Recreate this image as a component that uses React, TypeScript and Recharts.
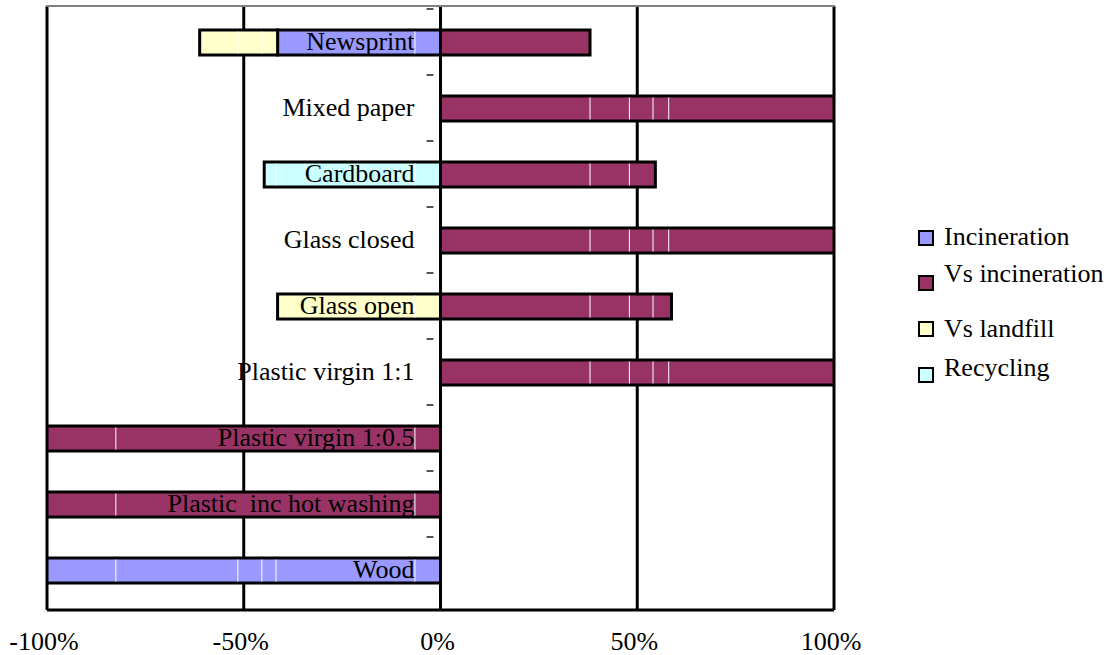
import React from "react";
import { BarChart, Bar, XAxis, YAxis, CartesianGrid, Legend } from "recharts";

// ---- data (percent) ----
const categories = [
  "Newsprint",
  "Mixed paper",
  "Cardboard",
  "Glass closed",
  "Glass open",
  "Plastic virgin 1:1",
  "Plastic virgin 1:0.5",
  "Plastic  inc hot washing",
  "Wood",
];
const incineration = [-41.4, null, null, null, null, null, null, null, -100];
const vsIncineration = [38, 100, 54.6, 100, 58.7, 100, -100, -100, null];
const vsLandfill = [-19.8, null, null, null, -41.4, null, null, null, null];
const recycling = [null, null, -44.8, null, null, null, null, null, null];

// boundaries between the inner sub-segments of each bar (percent)
const segmentBreaks = [
  [-51.5, -45.4, -6.5],
  [38, 48, 54, 58],
  [-41.8, -6.5, 38, 48, 54],
  [38, 48, 54, 58],
  [-6.5, 38, 48, 54],
  [38, 48, 54, 58],
  [-82.5, -6.5],
  [-82.5, -6.5],
  [-82.5, -51.5, -45.4, -41.8, -6.5],
];

const xTicks = [-100, -50, 0, 50, 100];

const seriesNames = ["Incineration", "Vs incineration", "Vs landfill", "Recycling"];
const seriesColors = ["#9999FF", "#993366", "#FFFFCC", "#CCFFFF"];

const data = categories.map((name, i) => ({
  name,
  idx: i,
  Incineration: incineration[i],
  "Vs incineration": vsIncineration[i],
  "Vs landfill": vsLandfill[i],
  Recycling: recycling[i],
}));

// ---- layout ----
const FONT = "'Liberation Serif', 'Times New Roman', Times, serif";
const W = 1112;
const H = 655;
const M = { top: 6, right: 278, bottom: 0, left: 46 };
const X_AXIS_H = 45;
const PLOT_LEFT = M.left + 1;
const PLOT_W = W - PLOT_LEFT - M.right;
const ZERO_X = PLOT_LEFT + PLOT_W / 2;
const PAD_TOP = 3;
const PAD_BOTTOM = 7;
const BAND = (H - M.top - X_AXIS_H - PAD_TOP - PAD_BOTTOM) / categories.length;

const SegmentShape = (props: any) => {
  const { x, y, width, height, fill, value, payload } = props;
  if (x == null || !width || Math.abs(width) < 0.5) return null;
  const left = Math.min(x, x + width);
  const w = Math.abs(width);
  let lo = 0;
  let hi = 0;
  if (Array.isArray(value)) {
    lo = Math.min(value[0], value[1]);
    hi = Math.max(value[0], value[1]);
  } else {
    lo = Math.min(0, value);
    hi = Math.max(0, value);
  }
  const px = (v: number) => left + ((v - lo) / (hi - lo)) * w;
  const breaks = (segmentBreaks[payload.idx] || []).filter(
    (b) => b > lo + 0.6 && b < hi - 0.6
  );
  return (
    <g>
      <rect x={left} y={y} width={w} height={height} fill={fill} stroke="#000" strokeWidth={3} />
      {breaks.map((b, k) => (
        <line key={k} x1={px(b)} x2={px(b)} y1={y + 1.5} y2={y + height - 1.5} stroke="#fff" strokeWidth={1} />
      ))}
    </g>
  );
};

const CategoryTick = (props: any) => {
  const { y, payload } = props;
  const by = y - BAND / 2;
  return (
    <g>
      <line x1={ZERO_X - 14} x2={ZERO_X - 7} y1={by} y2={by} stroke="#555" strokeWidth={2} />
      <text
        x={ZERO_X - 26}
        y={y + 8}
        textAnchor="end"
        fontFamily={FONT}
        fontSize={26}
        fill="#000"
        style={{ whiteSpace: "pre" }}
      >
        {payload.value}
      </text>
    </g>
  );
};

const ValueTick = (props: any) => {
  const { x, y, payload } = props;
  return (
    <text x={x - 3} y={y + 40} textAnchor="middle" fontFamily={FONT} fontSize={26} fill="#000">
      {`${payload.value}%`}
    </text>
  );
};

// legend item vertical placement (text centre, marker centre), relative to the legend box
const legendTextY = [37, 74, 129, 168];
const legendMarkerY = [38, 83, 129, 175];

const LegendContent = () => (
  <div style={{ position: "relative", width: 212, height: 200, fontFamily: FONT }}>
    {seriesNames.map((n, i) => (
      <React.Fragment key={n}>
        <div
          style={{
            position: "absolute",
            left: 18,
            top: legendMarkerY[i] - 8,
            width: 12,
            height: 12,
            background: seriesColors[i],
            border: "2px solid #000",
          }}
        />
        <div
          style={{
            position: "absolute",
            left: 44,
            top: legendTextY[i] - 15,
            height: 30,
            lineHeight: "30px",
            fontSize: 26,
            fontFamily: FONT,
            color: "#000",
            whiteSpace: "nowrap",
          }}
        >
          {n}
        </div>
      </React.Fragment>
    ))}
  </div>
);

export default function App() {
  return (
    <div style={{ position: "absolute", left: 0, top: 0, width: W, height: H, background: "#fff", fontFamily: FONT }}>
      <BarChart
        width={W}
        height={H}
        data={data}
        layout="vertical"
        stackOffset="sign"
        margin={M}
        barSize={25}
      >
        <CartesianGrid vertical={true} horizontal={false} stroke="#000" strokeWidth={3} />
        <XAxis
          type="number"
          domain={[-100, 100]}
          ticks={xTicks}
          allowDataOverflow
          height={X_AXIS_H}
          axisLine={{ stroke: "#000", strokeWidth: 3 }}
          tickLine={false}
          tickSize={0}
          tickMargin={0}
          tick={<ValueTick />}
        />
        {seriesNames.map((n, i) => (
          <Bar
            key={n}
            dataKey={n}
            stackId="s"
            fill={seriesColors[i]}
            isAnimationActive={false}
            shape={<SegmentShape />}
          />
        ))}
        <YAxis
          type="category"
          dataKey="name"
          width={1}
          padding={{ top: PAD_TOP, bottom: PAD_BOTTOM }}
          axisLine={false}
          tickLine={false}
          interval={0}
          tick={<CategoryTick />}
        />
        <Legend
          layout="vertical"
          align="center"
          verticalAlign="middle"
          wrapperStyle={{ left: 900, top: 200, width: 212, height: 200 }}
          content={<LegendContent />}
        />
      </BarChart>
      {/* top frame edge of the plot area */}
      <div
        style={{
          position: "absolute",
          left: PLOT_LEFT - 1,
          top: M.top - 1,
          width: PLOT_W + 2,
          height: 2,
          background: "#808080",
          pointerEvents: "none",
        }}
      />
    </div>
  );
}
